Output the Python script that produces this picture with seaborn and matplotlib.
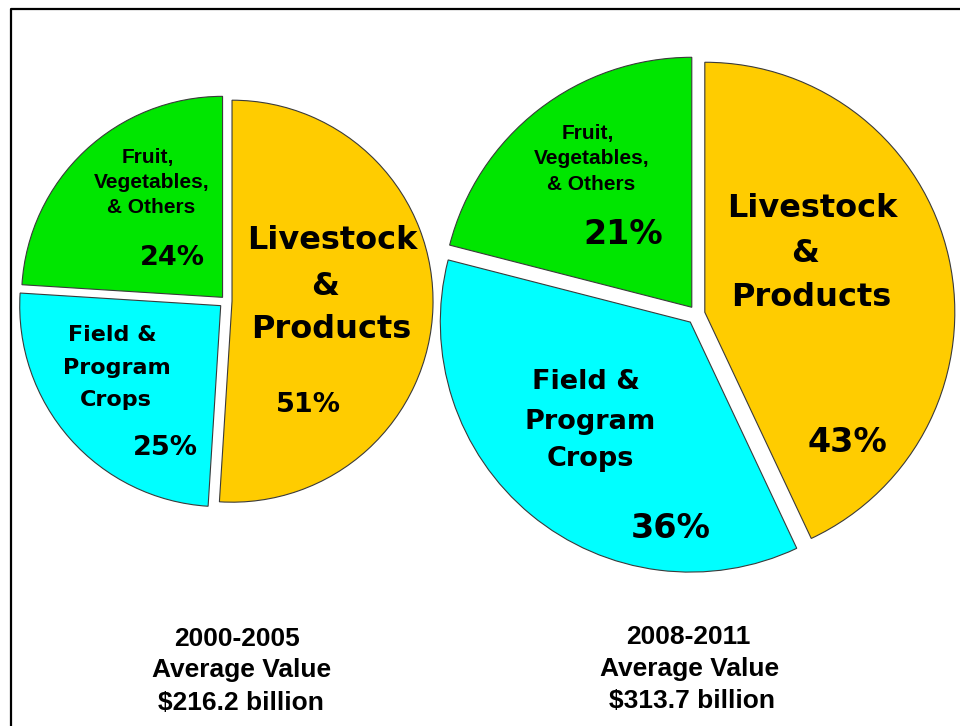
import matplotlib
matplotlib.use("Agg")
import matplotlib.pyplot as plt
import seaborn as sns

# data
periods = ["2000-2005", "2008-2011"]
totals = [216.2, 313.7]  # billion dollars, average value
categories = ["Livestock & Products", "Field & Program Crops", "Fruit, Vegetables, & Others"]
shares_2000 = [51, 25, 24]
shares_2008 = [43, 36, 21]

sns.set_theme(style="white")
plt.rcParams["font.family"] = ["DejaVu Sans"]

W, H = 960, 726
colors = sns.color_palette(["#ffcc00", "#00ffff", "#00e600"])

fig = plt.figure(figsize=(W / 100, H / 100), dpi=100)
ax = fig.add_axes([0, 0, 1, 1])

# pie layout in picture pixels (y measured from top)
pies = [
    dict(shares=shares_2000, center=(226, 301), radius=201, explode=[0.03, 0.035, 0.025]),
    dict(shares=shares_2008, center=(697, 314), radius=250, explode=[0.032, 0.042, 0.034]),
]
for p in pies:
    cx, cy = p["center"]
    r = p["radius"]
    # matplotlib's explode is in data units, so scale the fractions by the radius
    ax.pie(p["shares"], explode=[e * r for e in p["explode"]], colors=colors,
           startangle=90, counterclock=False, radius=r, center=(cx, H - cy),
           wedgeprops=dict(edgecolor="#3a3a3a", linewidth=0.8))

ax.set_xlim(0, W)
ax.set_ylim(0, H)
ax.set_aspect("auto")
ax.axis("off")


def put(x, y, s, size, fam="DejaVu Sans", cap=0.73):
    # y is the centre of the capitals in picture pixels
    base = y + cap / 2 * size * 100 / 72
    ax.text(x, H - base, s, ha="center", va="baseline", fontsize=size,
            fontweight="bold", family=fam, color="black")


arial = ["Liberation Sans", "DejaVu Sans"]

# left pie labels
for s, x, y in zip(["Fruit,", "Vegetables,", "& Others"], [148, 152, 151], [156, 181, 206]):
    put(x, y, s, 15, arial, 0.716)
put(172, 255, f"{shares_2000[2]}%", 19.5)
for s, x, y in zip(["Livestock", "&", "Products"], [332, 325, 331], [237, 283, 326]):
    put(x, y, s, 23)
put(308, 402, f"{shares_2000[0]}%", 19.5)
for s, x, y in zip(["Field &", "Program", "Crops"], [112, 117, 116], [333, 366, 398]):
    put(x, y, s, 16)
put(165, 445, f"{shares_2000[1]}%", 19.5)

# right pie labels
for s, x, y in zip(["Fruit,", "Vegetables,", "& Others"], [588, 592, 591], [132, 157, 183]):
    put(x, y, s, 15, arial, 0.716)
put(623, 232, f"{shares_2008[2]}%", 24)
for s, x, y in zip(["Livestock", "&", "Products"], [812, 805, 811], [205, 250, 294]):
    put(x, y, s, 23)
put(847, 440, f"{shares_2008[0]}%", 24)
for s, x, y in zip(["Field &", "Program", "Crops"], [586, 590, 590], [379, 419, 456]):
    put(x, y, s, 19.5)
put(671, 526, f"{shares_2008[1]}%", 24)

# captions under each pie
for per, tot, xs, ys in zip(periods, totals,
                            [[237, 242, 241], [688, 690, 692]],
                            [[637, 668, 701], [635, 667, 699]]):
    for s, x, y in zip([per, "Average Value", f"${tot} billion"], xs, ys):
        put(x, y, s, 19, arial, 0.716)

# frame line at top and left
ax.plot([11, 11, W], [0, H - 9, H - 9], color="black", lw=1.6, clip_on=False)

fig.savefig("out.png", dpi=100)
